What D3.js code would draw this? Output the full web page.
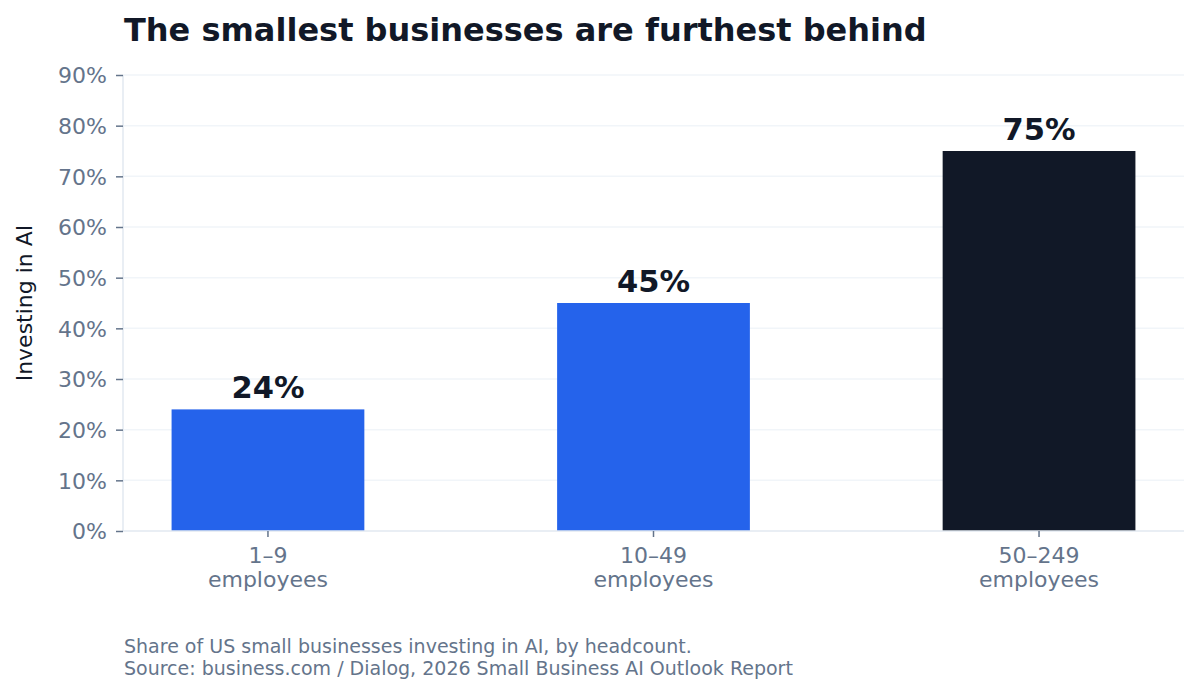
<!DOCTYPE html>
<html><head><meta charset="utf-8">
<script src="https://cdn.jsdelivr.net/npm/d3@7"></script>
<style>body{margin:0;background:#fff}svg{display:block;font-family:"DejaVu Sans",sans-serif}</style>
</head><body>
<svg id="c" width="1200" height="694"></svg>
<script>
const categories = ["1–9\nemployees", "10–49\nemployees", "50–249\nemployees"];
const values = [24, 45, 75];
const barColors = ["#2563eb", "#2563eb", "#111827"];
const yTicks = [0, 10, 20, 30, 40, 50, 60, 70, 80, 90];
const title = "The smallest businesses are furthest behind";
const yLabel = "Investing in AI";
const notes = ["Share of US small businesses investing in AI, by headcount.", "Source: business.com / Dialog, 2026 Small Business AI Outlook Report"];

const svg = d3.select("#c");
const L = 123, R = 1184, T = 75, B = 531;
const x = d3.scaleBand().domain(categories).range([L, R]).paddingInner(0.5).paddingOuter(0.126);
const y = d3.scaleLinear().domain([0, 90]).range([B, T]);

// gridlines
svg.append("g").selectAll("line").data(yTicks.slice(1)).join("line")
  .attr("x1", L).attr("x2", R).attr("y1", d => y(d)).attr("y2", d => y(d))
  .attr("stroke", "#f1f5f9").attr("stroke-width", 1.5);

// bars
svg.append("g").selectAll("rect").data(values).join("rect")
  .attr("x", (d, i) => x(categories[i])).attr("width", x.bandwidth())
  .attr("y", d => y(d)).attr("height", d => B - y(d))
  .attr("fill", (d, i) => barColors[i]);

// value labels
svg.append("g").selectAll("text").data(values).join("text")
  .attr("x", (d, i) => x(categories[i]) + x.bandwidth() / 2)
  .attr("y", d => y(d) - 11)
  .attr("text-anchor", "middle").attr("font-weight", "bold").attr("font-size", 30.5)
  .attr("fill", "#111827").text(d => d + "%");

// y axis
const ya = svg.append("g").attr("transform", `translate(${L},0)`)
  .call(d3.axisLeft(y).tickValues(yTicks).tickFormat(d => d + "%").tickSize(7).tickPadding(9));
ya.select(".domain").attr("stroke", "#e2e8f0").attr("stroke-width", 1.5).attr("d", `M0,${T}V${B}`);
ya.selectAll(".tick line").attr("stroke", "#64748b").attr("stroke-width", 1.5);
ya.selectAll(".tick text").attr("fill", "#64748b").attr("font-size", 22).attr("font-family", "DejaVu Sans").attr("dy", "0.36em");

// x axis
const xa = svg.append("g").attr("transform", `translate(0,${B})`)
  .call(d3.axisBottom(x).tickSize(6).tickPadding(10));
xa.select(".domain").attr("stroke", "#e2e8f0").attr("stroke-width", 1.5).attr("d", `M${L},0H${R}`);
xa.selectAll(".tick line").attr("stroke", "#64748b").attr("stroke-width", 1.5);
xa.selectAll(".tick text").attr("fill", "#64748b").attr("font-size", 22).attr("font-family", "DejaVu Sans")
  .each(function(d) {
    const t = d3.select(this); t.text(null);
    d.split("\n").forEach((s, i) => t.append("tspan").attr("x", 0).attr("dy", i === 0 ? "0.71em" : "24px").text(s));
  });

// title
svg.append("text").attr("x", 124).attr("y", 41).attr("font-weight", "bold").attr("font-size", 32)
  .attr("fill", "#111827").text(title);

// y label
svg.append("text").attr("transform", `translate(32,${(T + B) / 2}) rotate(-90)`)
  .attr("text-anchor", "middle").attr("font-size", 22).attr("fill", "#111827").text(yLabel);

// notes
svg.append("g").selectAll("text").data(notes).join("text")
  .attr("x", 124).attr("y", (d, i) => 653 + i * 22).attr("font-size", 19).attr("fill", "#64748b").text(d => d);
</script>
</body></html>
